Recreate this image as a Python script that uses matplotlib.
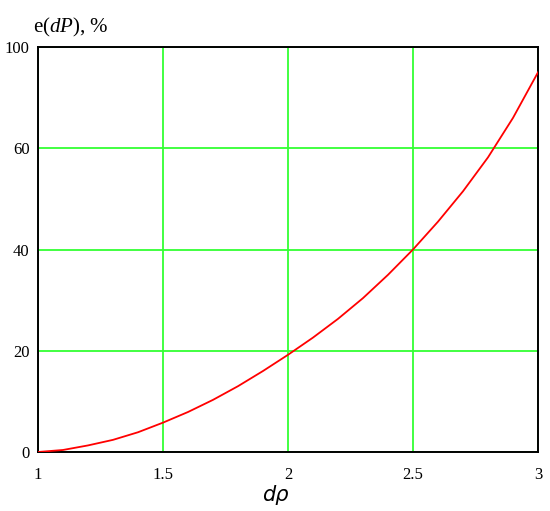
import numpy as np
import matplotlib.pyplot as plt

plt.rcParams['mathtext.fontset'] = 'custom'
plt.rcParams['mathtext.it'] = 'Liberation Serif:italic'
plt.rcParams['mathtext.rm'] = 'Liberation Serif'

# данные кривой e(dP), %
dp = [1.0, 1.1, 1.2, 1.3, 1.4, 1.5, 1.6, 1.7, 1.8, 1.9, 2.0,
      2.1, 2.2, 2.3, 2.4, 2.5, 2.6, 2.7, 2.8, 2.9, 3.0]
e_dp = [0.0, 0.4, 1.3, 2.4, 3.9, 5.8, 7.9, 10.3, 13.0, 16.0, 19.2,
        22.6, 26.3, 30.4, 35.0, 40.0, 45.5, 51.5, 58.2, 66.0, 75.0]

x_ticks = [1, 1.5, 2, 2.5, 3]
x_labels = ['1', '1.5', '2', '2.5', '3']
y_ticks = [0, 20, 40, 60, 80]
y_labels = ['0', '20', '40', '60', '100']

fig = plt.figure(figsize=(5.5, 5.11), dpi=100)
ax = fig.add_axes([38/550, 59/511, 500/550, 405/511])

ax.plot(dp, e_dp, color='red', linewidth=1.3, zorder=3)

ax.set_xlim(1, 3)
ax.set_ylim(0, 80)
ax.set_xticks(x_ticks)
ax.set_xticklabels(x_labels)
ax.set_yticks(y_ticks)
ax.set_yticklabels(y_labels)
ax.grid(True, color='#33ff33', linewidth=1.3)
ax.set_axisbelow(True)
ax.tick_params(axis='x', length=0, pad=11, labelsize=12)
ax.tick_params(axis='y', length=0, pad=6, labelsize=12)
for lab in ax.get_xticklabels() + ax.get_yticklabels():
    lab.set_family('Liberation Serif')
for s in ax.spines.values():
    s.set_linewidth(1.4)
    s.set_color('black')

# подписи осей
fig.text(275/550, 1 - 495/511, 'dρ', fontsize=15, style='italic',
         family='DejaVu Sans', ha='center', va='center')
fig.text(33/550, 1 - 32/511, r'e($\mathit{dP}$), %', fontsize=15,
         family='Liberation Serif', va='baseline', ha='left')

fig.savefig('out.png')
